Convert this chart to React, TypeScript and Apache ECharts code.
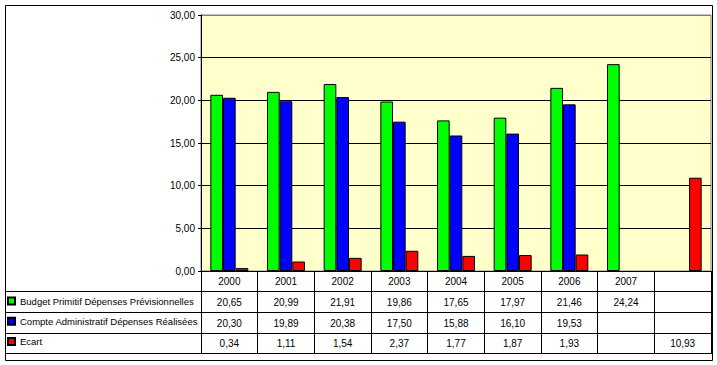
import React, { useEffect, useRef } from "react";
import * as echarts from "echarts";

const categories = ["2000", "2001", "2002", "2003", "2004", "2005", "2006", "2007", ""];
const budgetPrimitif = [20.65, 20.99, 21.91, 19.86, 17.65, 17.97, 21.46, 24.24, null];
const compteAdministratif = [20.3, 19.89, 20.38, 17.5, 15.88, 16.1, 19.53, null, null];
const ecart = [0.34, 1.11, 1.54, 2.37, 1.77, 1.87, 1.93, null, 10.93];
const seriesNames = [
  "Budget Primitif Dépenses Prévisionnelles",
  "Compte Administratif Dépenses Réalisées",
  "Ecart",
];
const seriesColors = ["#00FF00", "#0000FF", "#FF0000"];
const yTicks = { min: 0, max: 30, interval: 5 };

const FONT = "'Liberation Sans', Arial, sans-serif";
const fmt = (v: number | null) => (v === null || v === undefined ? "" : v.toFixed(2).replace(".", ","));

export default function App() {
  const ref = useRef<HTMLDivElement>(null);
  useEffect(() => {
    document.body.style.margin = "0";
    if (!ref.current) return;
    const chart = echarts.init(ref.current, null, { renderer: "svg" });
    const gridLeft = 201;
    const gridTop = 15;
    const gridW = 510;
    const gridH = 256;
    const rows = [budgetPrimitif, compteAdministratif, ecart];
    const rowOffsets = [21, 42, 62];
    const rowLines = [291, 312, 333, 353];

    const valueAxes = rows.map((r, i) => ({
      type: "category",
      gridIndex: 0,
      position: "bottom",
      offset: rowOffsets[i],
      data: r.map(fmt),
      axisLine: { show: false },
      axisTick: { show: false },
      splitLine: { show: false },
      axisLabel: {
        interval: 0,
        margin: 10,
        verticalAlign: "middle",
        color: "#000",
        fontSize: 10,
        fontFamily: FONT,
      },
    }));

    const splitColors = ["#000", "#000", "#000", "#000", "#000", "#000", "#808080"];

    chart.setOption({
      animation: false,
      backgroundColor: "#fff",
      textStyle: { fontFamily: FONT },
      grid: {
        left: gridLeft,
        top: gridTop,
        width: gridW,
        height: gridH,
        show: true,
        backgroundColor: "#FFFFCC",
        borderColor: "#808080",
        borderWidth: 1,
      },
      legend: {
        orient: "vertical",
        left: 7,
        top: 296,
        padding: 0,
        itemWidth: 7,
        itemHeight: 7,
        itemGap: 10.3,
        selectedMode: false,
        icon: "rect",
        textStyle: { fontSize: 9.5, color: "#000", fontFamily: FONT },
        data: seriesNames,
      },
      xAxis: [
        {
          type: "category",
          gridIndex: 0,
          position: "bottom",
          data: categories,
          axisLine: { show: true, lineStyle: { color: "#000", width: 1 } },
          axisTick: {
            show: true,
            alignWithLabel: false,
            interval: 0,
            length: 82,
            lineStyle: { color: "#000", width: 1 },
          },
          axisLabel: {
            interval: 0,
            margin: 10,
            verticalAlign: "middle",
            color: "#000",
            fontSize: 10,
            fontFamily: FONT,
          },
          splitLine: { show: false },
        },
        ...valueAxes,
      ],
      yAxis: {
        type: "value",
        min: yTicks.min,
        max: yTicks.max,
        interval: yTicks.interval,
        axisLine: { show: true, lineStyle: { color: "#000", width: 1 } },
        axisTick: { show: true, length: 3, lineStyle: { color: "#000" } },
        axisLabel: {
          formatter: (v: number) => fmt(v),
          color: "#000",
          fontSize: 10,
          fontFamily: FONT,
          margin: 6,
        },
        splitLine: { show: true, lineStyle: { color: splitColors, width: 1 } },
      },
      series: [budgetPrimitif, compteAdministratif, ecart].map((d, i) => ({
        name: seriesNames[i],
        type: "bar",
        xAxisIndex: 0,
        data: d,
        barGap: "0%",
        barCategoryGap: "33%",
        itemStyle: { color: seriesColors[i], borderColor: "#000", borderWidth: 1 },
      })),
      graphic: [
        ...rowLines.map((y) => ({
          type: "line",
          shape: { x1: 5, y1: y + 0.5, x2: 712, y2: y + 0.5 },
          style: { stroke: "#000", lineWidth: 1 },
          silent: true,
        })),
        {
          type: "rect",
          shape: { x: 5.5, y: 5.5, width: 707, height: 355 },
          style: { fill: "none", stroke: "#000", lineWidth: 1 },
          silent: true,
        },
      ],
    });
    return () => chart.dispose();
  }, []);
  return <div ref={ref} style={{ width: 717, height: 365 }} />;
}
